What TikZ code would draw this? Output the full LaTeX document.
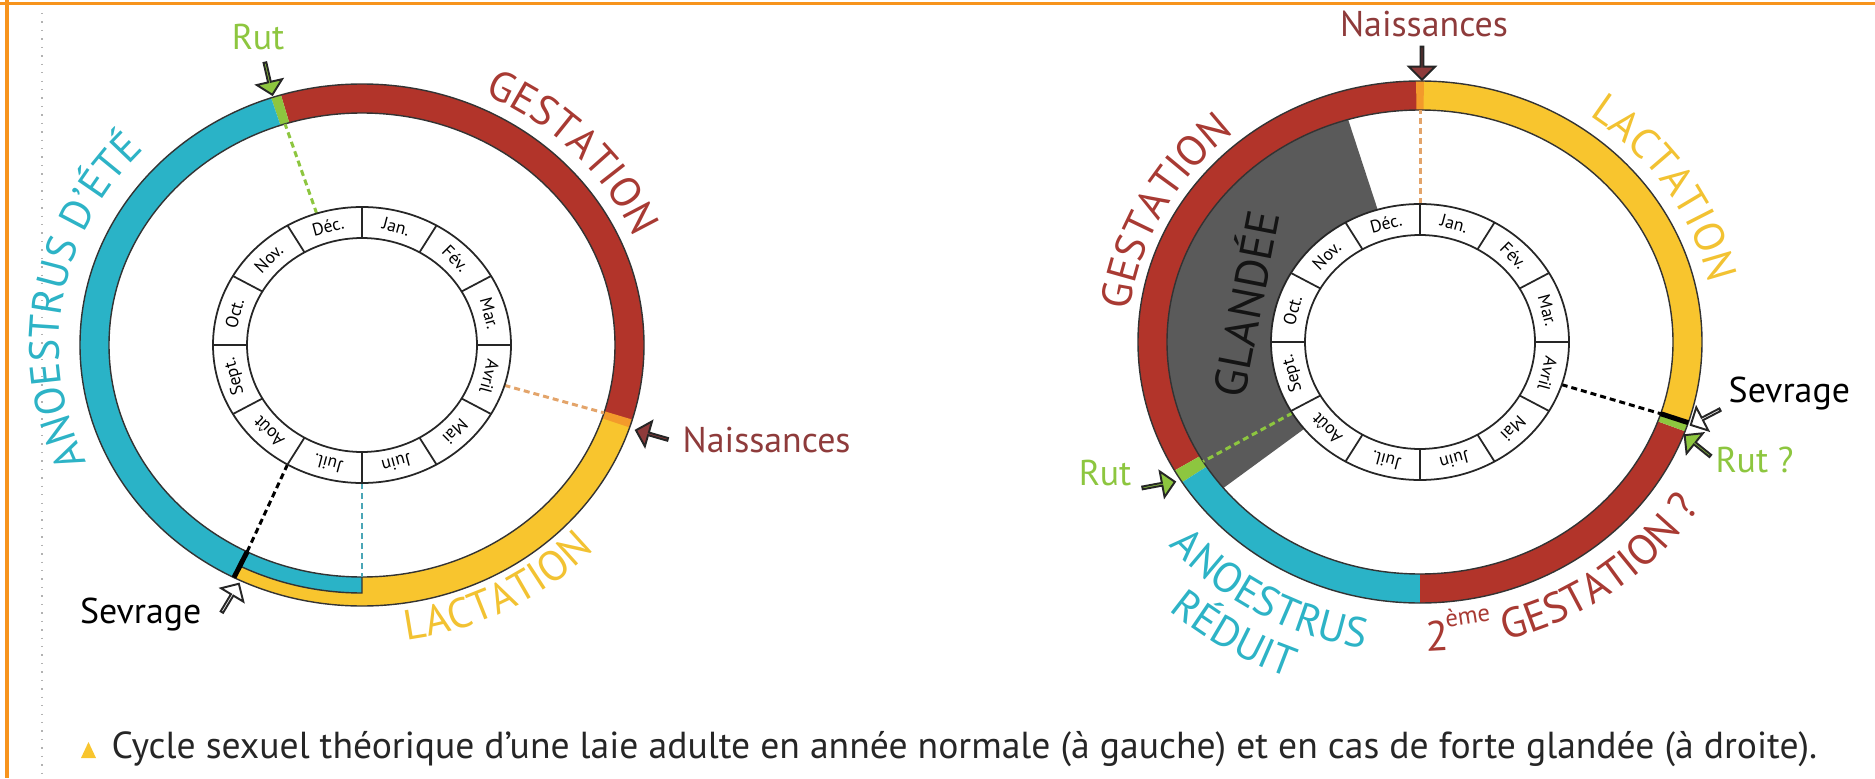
\documentclass[tikz,border=0pt]{standalone}
\usepackage{fontspec}
\setmainfont{PT Sans}
\usetikzlibrary{shapes.arrows,positioning,calc,decorations.text}

\definecolor{cyanband}{HTML}{2AB3C7}
\definecolor{redband}{HTML}{B2342A}
\definecolor{yellowband}{HTML}{F8C52E}
\definecolor{rutgreen}{HTML}{8DC63F}
\definecolor{birthorange}{HTML}{F39A2B}
\definecolor{labred}{HTML}{A83A33}
\definecolor{labyellow}{HTML}{F2C232}
\definecolor{labcyan}{HTML}{2DB3C6}
\definecolor{naisred}{HTML}{8E3B3B}
\definecolor{dashtan}{HTML}{E3A46A}
\definecolor{dashcyan}{HTML}{4AA6B6}
\definecolor{framorange}{HTML}{F7941D}
\definecolor{glandgray}{HTML}{5A5A5A}

\newcommand{\biglab}{\fontsize{12}{14}\selectfont}
\newcommand{\suplab}{\fontsize{7}{8}\selectfont}

% one coloured piece of an elliptic band
\newcommand{\bandpiece}[7]{%
  \fill[#7] (#1:#3 and #4) arc[start angle=#1, end angle=#2, x radius=#3, y radius=#4]
    -- (#2:#5 and #6) arc[start angle=#2, end angle=#1, x radius=#5, y radius=#6] -- cycle;}

% text set along an elliptic arc
\newcommand{\arclabel}[6]{%
  \path[decorate, decoration={text along path, text align=center, text={|#5|#6}}]
    (#1:#3 and #4) arc[start angle=#1, end angle=#2, x radius=#3, y radius=#4];}

% ring of the months, #1 = prefix of the node names
\newcommand{\monthring}[1]{%
  \fill[white] (0,0) ellipse[x radius=149, y radius=138];
  \draw[ringline] (0,0) ellipse[x radius=149, y radius=138];
  \draw[ringline] (0,0) ellipse[x radius=115, y radius=107];
  \foreach \m [count=\i] in {Jan.,Fév.,Mar.,Avril,Mai,Juin,Juil.,Août,Sept.,Oct.,Nov.,Déc.}{
    \pgfmathsetmacro\ang{105-30*\i}
    \draw[ringline] (\ang+15:115 and 107) -- (\ang+15:149 and 138);
    \node[mois, rotate=\ang-90] (#1\i) at (\ang:132 and 122.5) {\m};
  }}

\begin{document}
\begin{tikzpicture}[x=0.01cm, y=0.01cm,
  ringline/.style={line width=0.5pt, black!85},
  edgeline/.style={line width=0.4pt, black!80},
  mois/.style={font=\fontsize{5}{6}\selectfont, inner sep=0pt},
  marker/.style={font=\fontsize{10.2}{12}\selectfont, inner sep=0pt},
  blockarrow/.style={single arrow, draw=black!85, line width=0.55pt, inner sep=0pt,
    minimum width=0.26cm, minimum height=0.33cm, single arrow head extend=0.08cm,
    single arrow tip angle=90},
  datedash/.style={line width=0.85pt, dash pattern=on 0.06cm off 0.04cm}]
  \useasboundingbox (0,0) rectangle (1875,778);

  % Page frame
  \draw[framorange, line width=0.03cm] (0,774) -- (1875,774);
  \draw[framorange, line width=0.03cm] (7,778) -- (7,0);
  \draw[black!30, dotted] (42,765) -- (42,0);

  % Normal year
  \begin{scope}[shift={(362,433)}]
    \bandpiece{-17.4}{106.7}{282}{261}{253}{232}{redband}
    \bandpiece{106.7}{108.8}{282}{261}{253}{232}{rutgreen}
    \bandpiece{108.8}{243}{282}{261}{253}{232}{cyanband}
    \bandpiece{243}{270}{269}{248}{253}{232}{cyanband}
    \bandpiece{243}{270}{282}{261}{269}{248}{yellowband}
    \bandpiece{270}{342.6}{282}{261}{253}{232}{yellowband}
    \bandpiece{341.6}{343.4}{282}{261}{253}{232}{birthorange}
    \draw[edgeline] (0,0) ellipse[x radius=282, y radius=261];
    \draw[edgeline] (0,0) ellipse[x radius=253, y radius=232];
    \draw[edgeline] (243:269 and 248) arc[start angle=243, end angle=270, x radius=269, y radius=248]
      -- (270:253 and 232);
    \draw[line width=0.05cm] (243:253 and 232) -- (243:282 and 261);

    % Dates
    \coordinate (rutLa) at (107.7:149 and 138);
    \coordinate (rutLb) at (107.7:253 and 232);
    \coordinate (naisLa) at (-17:149 and 138);
    \coordinate (naisLb) at (-17:253 and 232);
    \coordinate (sevLa) at (240:149 and 138);
    \coordinate (sevLb) at (243:253 and 232);
    \coordinate (juilLa) at (270:149 and 138);
    \coordinate (juilLb) at (270:253 and 232);
    \draw[datedash, rutgreen] (rutLa) -- (rutLb);
    \draw[datedash, dashtan] (naisLa) -- (naisLb);
    \draw[datedash, black] (sevLa) -- (sevLb);
    \draw[datedash, dashcyan] (juilLa) -- (juilLb);

    \monthring{L}

    % Phases
    \arclabel{88.5}{-1.5}{296}{275}{\biglab\color{labred}}{GESTATION}
    \arclabel{225}{116}{303}{282}{\biglab\color{labcyan}}{ANOESTRUS D'ÉTÉ}
    \arclabel{-107}{-17}{319}{298}{\biglab\color{labyellow}}{LACTATION}
  \end{scope}

  % Mast year
  \begin{scope}[shift={(1420,436)}]
    \fill[glandgray] (106.5:149 and 138) -- (106.5:253 and 232)
      arc[start angle=106.5, end angle=219, x radius=253, y radius=232]
      -- (219:149 and 138) arc[start angle=219, end angle=106.5, x radius=149, y radius=138] -- cycle;
    \bandpiece{90}{209.5}{282}{261}{253}{232}{redband}
    \bandpiece{209.5}{212.5}{282}{261}{253}{232}{rutgreen}
    \bandpiece{212.5}{270}{282}{261}{253}{232}{cyanband}
    \bandpiece{270}{340}{282}{261}{253}{232}{redband}
    \bandpiece{340}{341.6}{282}{261}{253}{232}{rutgreen}
    \bandpiece{341.6}{450}{282}{261}{253}{232}{yellowband}
    \bandpiece{89.2}{90.8}{282}{261}{253}{232}{birthorange}
    \draw[edgeline] (0,0) ellipse[x radius=282, y radius=261];
    \draw[edgeline] (0,0) ellipse[x radius=253, y radius=232];
    \draw[line width=0.05cm] (342:253 and 232) -- (342:282 and 261);

    % Dates
    \coordinate (naisRa) at (90:149 and 138);
    \coordinate (naisRb) at (90:253 and 232);
    \coordinate (sevRa) at (342:149 and 138);
    \coordinate (sevRb) at (342:253 and 232);
    \coordinate (rutRa) at (211:149 and 138);
    \coordinate (rutRb) at (211:253 and 232);
    \draw[datedash, dashtan] (naisRa) -- (naisRb);
    \draw[datedash, black] (sevRa) -- (sevRb);
    \draw[datedash, rutgreen] (rutRa) -- (rutRb);

    \monthring{R}

    % Phases
    \arclabel{197}{107}{292}{271}{\biglab\color{labred}}{GESTATION}
    \arclabel{78}{-12}{296}{275}{\biglab\color{labyellow}}{LACTATION}
    \arclabel{195}{285}{332}{311}{\biglab\color{labcyan}}{ANOESTRUS}
    \arclabel{193.5}{283.5}{379}{358}{\biglab\color{labcyan}}{RÉDUIT}
    \arclabel{255}{345}{330}{309}{\biglab\color{labred}}{2{\raisebox{1.1ex}{\suplab ème}} GESTATION ?}
  \end{scope}

  % Events, normal year
  \node[marker, anchor=base, text=rutgreen] (rutL) at (258,728) {Rut};
  \node[blockarrow, fill=rutgreen, rotate=-77] (rutLarr) at (268.5,700) {};
  \node[marker, anchor=base west, text=naisred] (naisL) at (682,326) {Naissances};
  \node[blockarrow, fill=naisred, rotate=164] (naisLarr) at (652.5,343) {};
  \node[marker, anchor=base east] (sevL) at (202,155) {Sevrage};
  \node[blockarrow, fill=white, rotate=59] (sevLarr) at (230,179.5) {};

  % Events, mast year
  \node[marker, anchor=base, text=naisred] (naisR) at (1424,741) {Naissances};
  \node[blockarrow, fill=naisred, rotate=-90] (naisRarr) at (1422,715.5) {};
  \node[marker, anchor=base west] (sevR) at (1728,376) {Sevrage};
  \node[blockarrow, fill=white, rotate=207.5] (sevRarr) at (1706,361) {};
  \node[marker, anchor=base west, text=rutgreen] (rut2R) at (1715,306) {Rut ?};
  \node[blockarrow, fill=rutgreen, rotate=141] (rut2Rarr) at (1698,332) {};
  \node[marker, anchor=base east, text=rutgreen] (rutR) at (1132,293) {Rut};
  \node[blockarrow, fill=rutgreen, rotate=10.6] (rutRarr) at (1158,293) {};
  \node[font=\fontsize{13}{15}\selectfont, text=black!92, rotate=79] (glandee) at (1243,475) {GLANDÉE};

  % Caption
  \fill[yellowband] (81,20) -- (96,20) -- (88.5,36) -- cycle;
  \node[font=\fontsize{10.7}{12}\selectfont, inner sep=0pt, anchor=base west, text=black!85] (caption) at (111,20)
    {Cycle sexuel théorique d'une laie adulte en année normale (à gauche) et en cas de forte glandée (à droite).};
\end{tikzpicture}
\end{document}
